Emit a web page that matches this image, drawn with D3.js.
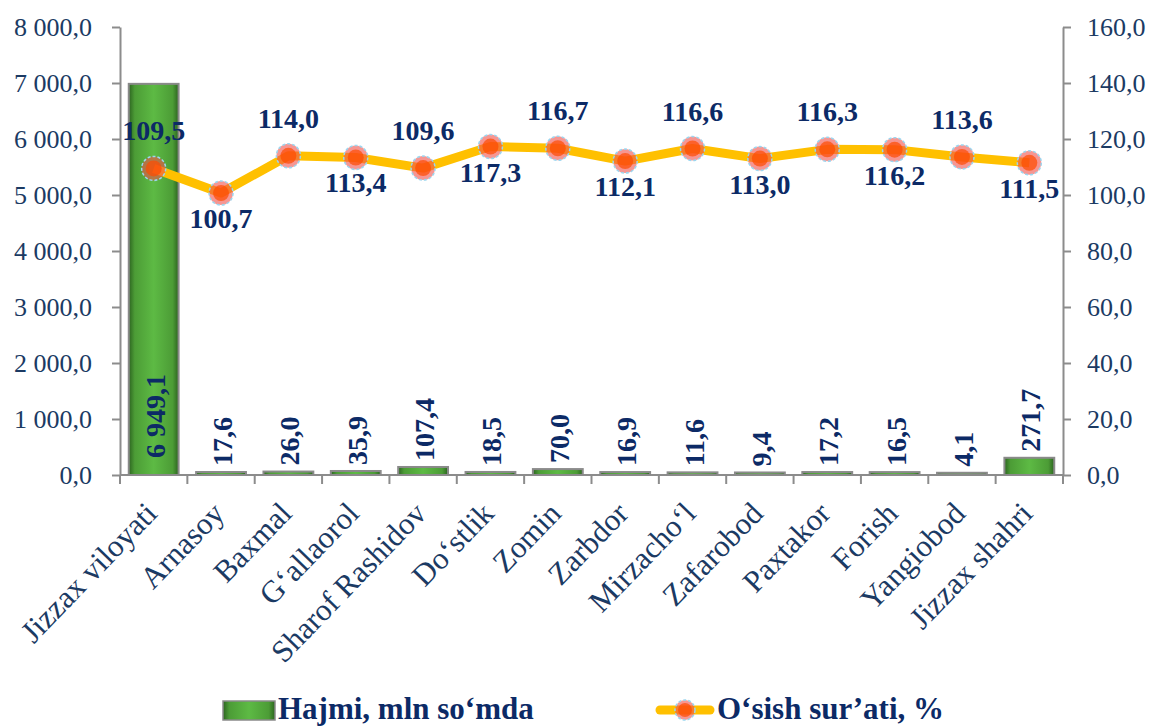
<!DOCTYPE html>
<html lang="en">
<head>
<meta charset="UTF-8" />
<script src="https://cdn.jsdelivr.net/npm/d3@7"></script>
<style>
  * { margin: 0; padding: 0; }
  body { background: #fff; }
  svg text { font-family: "Liberation Serif", "Times New Roman", serif; }
</style>
</head>
<body>
<div id="chart"></div>
<script>
const districts = ['Jizzax viloyati', 'Arnasoy', 'Baxmal', 'G‘allaorol', 'Sharof Rashidov', 'Do‘stlik',
  'Zomin', 'Zarbdor', 'Mirzacho‘l', 'Zafarobod', 'Paxtakor', 'Forish', 'Yangiobod', 'Jizzax shahri'];
const volume = [6949.1, 17.6, 26.0, 35.9, 107.4, 18.5, 70.0, 16.9, 11.6, 9.4, 17.2, 16.5, 4.1, 271.7];
const growth = [109.5, 100.7, 114.0, 113.4, 109.6, 117.3, 116.7, 112.1, 116.6, 113.0, 116.3, 116.2, 113.6, 111.5];
const leftTicks = [0, 1000, 2000, 3000, 4000, 5000, 6000, 7000, 8000];
const rightTicks = [0, 20, 40, 60, 80, 100, 120, 140, 160];
const legendNames = ['Hajmi, mln so‘mda', 'O‘sish sur’ati, %'];

const width = 1150, height = 726;
const margin = { top: 27, left: 120, right: 87, bottom: 251 };
const innerW = width - margin.left - margin.right;
const innerH = height - margin.top - margin.bottom;

const loc = d3.formatLocale({ decimal: ',', thousands: '\u00a0', grouping: [3], currency: ['', ''] });
const fmt = loc.format(',.1f');

const svg = d3.select('#chart').append('svg').attr('width', width).attr('height', height);

const defs = svg.append('defs');
const grad = defs.append('linearGradient').attr('id', 'barGrad').attr('x1', 0).attr('x2', 1).attr('y1', 0).attr('y2', 0);
grad.append('stop').attr('offset', '0%').attr('stop-color', '#2c6420');
grad.append('stop').attr('offset', '12%').attr('stop-color', '#4c9c36');
grad.append('stop').attr('offset', '50%').attr('stop-color', '#5dba44');
grad.append('stop').attr('offset', '88%').attr('stop-color', '#4c9c36');
grad.append('stop').attr('offset', '100%').attr('stop-color', '#2c6420');

const g = svg.append('g').attr('transform', `translate(${margin.left},${margin.top})`);

const x = d3.scaleBand().domain(districts).range([0, innerW]).paddingInner(0.26).paddingOuter(0.13);
const yL = d3.scaleLinear().domain([0, 8000]).range([innerH, 0]);
const yR = d3.scaleLinear().domain([0, 160]).range([innerH, 0]);

const axisColor = '#8c8c8c';
const tickText = '#1b3a63';
const labelColor = '#0c2a66';

// left axis
const leftAxis = g.append('g').call(d3.axisLeft(yL).tickValues(leftTicks).tickFormat(fmt).tickSize(8).tickSizeOuter(0));
leftAxis.select('.domain').attr('stroke', axisColor).attr('stroke-width', 2);
leftAxis.selectAll('.tick line').attr('stroke', axisColor).attr('stroke-width', 2);
leftAxis.selectAll('.tick text').attr('x', -28).attr('font-size', 26).attr('fill', tickText);

// right axis
const rightAxis = g.append('g').attr('transform', `translate(${innerW},0)`)
  .call(d3.axisRight(yR).tickValues(rightTicks).tickFormat(fmt).tickSize(8).tickSizeOuter(0));
rightAxis.select('.domain').attr('stroke', axisColor).attr('stroke-width', 2);
rightAxis.selectAll('.tick line').attr('stroke', axisColor).attr('stroke-width', 2);
rightAxis.selectAll('.tick text').attr('x', 24).attr('font-size', 26).attr('fill', tickText);

// bottom axis with ticks at category boundaries
const bottom = g.append('g').attr('transform', `translate(0,${innerH})`);
bottom.append('line').attr('x1', 0).attr('x2', innerW).attr('stroke', axisColor).attr('stroke-width', 2);
bottom.selectAll('line.tk').data(d3.range(districts.length + 1)).join('line').attr('class', 'tk')
  .attr('x1', (d) => d * innerW / districts.length).attr('x2', (d) => d * innerW / districts.length)
  .attr('y1', 0).attr('y2', 9).attr('stroke', axisColor).attr('stroke-width', 2);
bottom.selectAll('text').data(districts).join('text')
  .attr('transform', (d) => `translate(${x(d) + x.bandwidth() / 2 + 5},${40}) rotate(-46)`)
  .attr('text-anchor', 'end')
  .attr('font-size', 31)
  .attr('fill', tickText)
  .text((d) => d);

// bars
g.append('g').selectAll('rect').data(volume).join('rect')
  .attr('x', (d, i) => x(districts[i]))
  .attr('y', (d) => yL(d) - 2)
  .attr('width', x.bandwidth())
  .attr('height', (d) => innerH - yL(d) + 2)
  .attr('fill', 'url(#barGrad)')
  .attr('stroke', '#8a8a8a')
  .attr('stroke-width', 2);

// bar labels
g.append('g').selectAll('text').data(volume).join('text')
  .attr('transform', (d, i) => {
    const cx = x(districts[i]) + x.bandwidth() / 2 + 11;
    const big = innerH - yL(d) > 100;
    const yy = big ? innerH - 17 : yL(d) - 8;
    return `translate(${cx},${yy}) rotate(-90)`;
  })
  .attr('text-anchor', 'start')
  .attr('font-size', 28)
  .attr('font-weight', 'bold')
  .attr('fill', labelColor)
  .text((d) => fmt(d));

// growth line
const cxOf = (i) => x(districts[i]) + x.bandwidth() / 2;
g.append('path').datum(growth)
  .attr('fill', 'none')
  .attr('stroke', '#ffc000')
  .attr('stroke-width', 9)
  .attr('stroke-linejoin', 'round')
  .attr('d', d3.line().x((d, i) => cxOf(i)).y((d) => yR(d)));

const markers = g.append('g').selectAll('g').data(growth).join('g')
  .attr('transform', (d, i) => `translate(${cxOf(i)},${yR(d)})`);
markers.append('circle').attr('r', 12)
  .attr('fill', '#f0504a').attr('fill-opacity', 0.6)
  .attr('stroke', '#9bd6f0').attr('stroke-width', 1.5).attr('stroke-dasharray', '3,2');
markers.append('circle').attr('r', 8).attr('fill', '#ff4a00').attr('fill-opacity', 0.7);

// growth labels, alternating above / below
g.append('g').selectAll('text').data(growth).join('text')
  .attr('x', (d, i) => cxOf(i))
  .attr('y', (d, i) => yR(d) + (i % 2 === 0 ? -28 : 35))
  .attr('text-anchor', 'middle')
  .attr('font-size', 28)
  .attr('font-weight', 'bold')
  .attr('fill', labelColor)
  .text((d) => fmt(d));

// legend
const leg = svg.append('g').attr('transform', 'translate(0,710)');
leg.append('rect').attr('x', 223).attr('y', -9).attr('width', 52).attr('height', 19)
  .attr('fill', 'url(#barGrad)').attr('stroke', '#8a8a8a').attr('stroke-width', 1.5);
leg.append('text').attr('x', 278).attr('y', 9).attr('font-size', 31).attr('font-weight', 'bold')
  .attr('fill', labelColor).text(legendNames[0]);
leg.append('line').attr('x1', 660).attr('x2', 710).attr('y1', 0).attr('y2', 0)
  .attr('stroke', '#ffc000').attr('stroke-width', 9).attr('stroke-linecap', 'round');
leg.append('circle').attr('cx', 685).attr('cy', 0).attr('r', 10)
  .attr('fill', '#f0504a').attr('fill-opacity', 0.6)
  .attr('stroke', '#9bd6f0').attr('stroke-width', 1.5).attr('stroke-dasharray', '3,2');
leg.append('circle').attr('cx', 685).attr('cy', 0).attr('r', 7).attr('fill', '#ff4a00').attr('fill-opacity', 0.7);
leg.append('text').attr('x', 717).attr('y', 9).attr('font-size', 31).attr('font-weight', 'bold')
  .attr('fill', labelColor).text(legendNames[1]);
</script>
</body>
</html>
